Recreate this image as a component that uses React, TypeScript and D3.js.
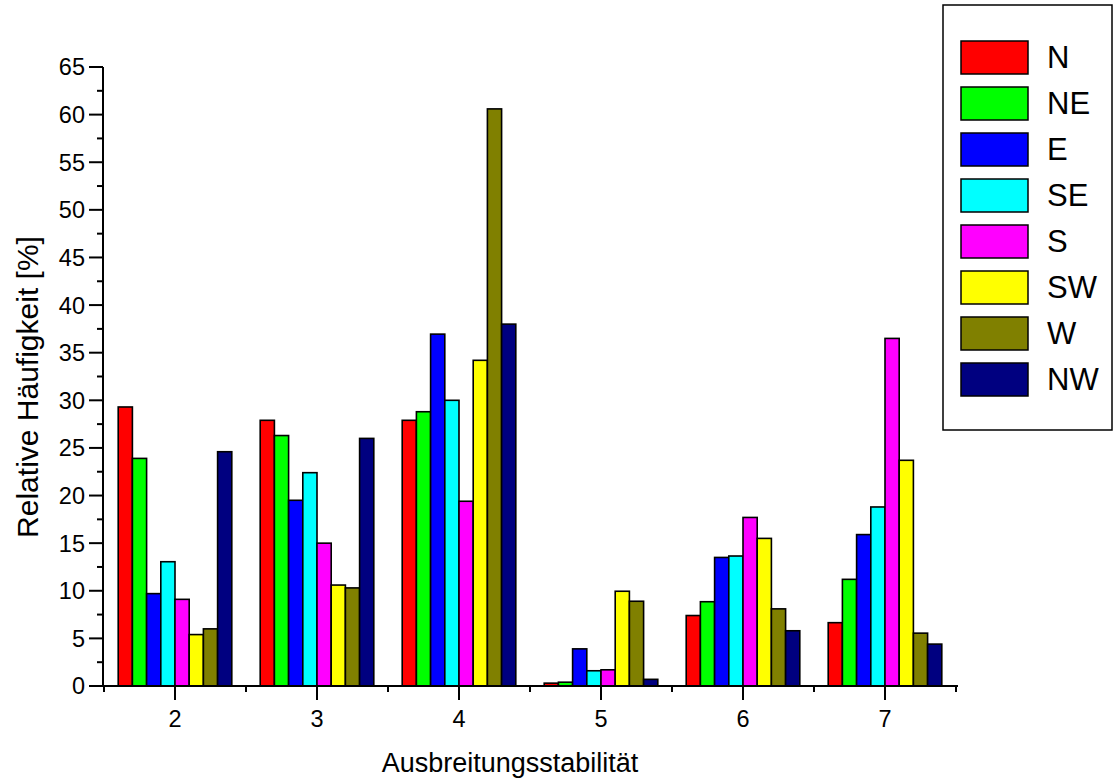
import React from "react";
import * as d3 from "d3";

const categories = [2, 3, 4, 5, 6, 7];
const seriesNames = ["N", "NE", "E", "SE", "S", "SW", "W", "NW"];
const seriesColors = ["#FF0000", "#00FF00", "#0000FF", "#00FFFF", "#FF00FF", "#FFFF00", "#808000", "#000080"];
// values per series, one per category (2..7)
const N = [29.3, 27.9, 27.9, 0.3, 7.4, 6.65];
const NE = [23.9, 26.3, 28.8, 0.4, 8.85, 11.2];
const E = [9.7, 19.5, 36.95, 3.9, 13.5, 15.9];
const SE = [13.05, 22.4, 30.0, 1.6, 13.65, 18.8];
const S = [9.1, 15.0, 19.4, 1.7, 17.7, 36.5];
const SW = [5.4, 10.6, 34.2, 9.95, 15.5, 23.7];
const W = [6.0, 10.3, 60.6, 8.9, 8.1, 5.55];
const NW = [24.6, 26.0, 38.0, 0.7, 5.8, 4.4];
const seriesValues = [N, NE, E, SE, S, SW, W, NW];
const yTicks = [0, 5, 10, 15, 20, 25, 30, 35, 40, 45, 50, 55, 60, 65];
const xTitle = "Ausbreitungsstabilität";
const yTitle = "Relative Häufigkeit [%]";

const FONT = "'Liberation Sans', Arial, Helvetica, sans-serif";

export default function App() {
  const x = d3.scaleLinear().domain([1.5, 7.5]).range([104, 956]);
  const y = d3.scaleLinear().domain([0, 65]).range([686, 67]);
  const step = x(3) - x(2);
  const inner = d3
    .scaleBand<string>()
    .domain(seriesNames)
    .range([-0.4 * step, 0.4 * step])
    .paddingInner(0)
    .paddingOuter(0);
  const minorY = d3.range(0, 65.01, 2.5).filter((v) => Math.abs(v % 5) > 0.01);
  const minorX = d3.range(1.5, 7.51, 1);
  const axisX0 = 103;
  const axisY0 = y(0);

  const legendX = 943;
  const legendTop = 5;
  const rowH = 46;

  return (
    <svg
      width={1113}
      height={784}
      style={{ position: "absolute", left: 0, top: 0, background: "#fff" }}
      fontFamily={FONT}
    >
      <rect x={0} y={0} width={1113} height={784} fill="#fff" />
      {/* bars */}
      {seriesNames.map((s, si) =>
        categories.map((c, ci) => {
          const v = seriesValues[si][ci];
          const bx = x(c) + (inner(s) as number);
          return (
            <rect
              key={s + c}
              x={bx}
              y={y(v)}
              width={inner.bandwidth()}
              height={axisY0 - y(v)}
              fill={seriesColors[si]}
              stroke="#000"
              strokeWidth={1.6}
            />
          );
        })
      )}
      {/* y axis */}
      <line x1={axisX0} x2={axisX0} y1={y(65)} y2={axisY0 + 1} stroke="#000" strokeWidth={2} />
      {yTicks.map((t) => (
        <g key={"yt" + t}>
          <line x1={axisX0 - 14} x2={axisX0} y1={y(t)} y2={y(t)} stroke="#000" strokeWidth={2} />
          <text x={85} y={y(t)} dy="0.36em" textAnchor="end" fontSize={23.5}>
            {t}
          </text>
        </g>
      ))}
      {minorY.map((t) => (
        <line key={"ym" + t} x1={axisX0 - 6} x2={axisX0} y1={y(t)} y2={y(t)} stroke="#000" strokeWidth={2} />
      ))}
      {/* x axis */}
      <line x1={axisX0 - 1} x2={958} y1={axisY0} y2={axisY0} stroke="#000" strokeWidth={2} />
      {categories.map((c) => (
        <g key={"xt" + c}>
          <line x1={x(c)} x2={x(c)} y1={axisY0} y2={axisY0 + 14} stroke="#000" strokeWidth={2} />
          <text x={x(c)} y={727} textAnchor="middle" fontSize={23.5}>
            {c}
          </text>
        </g>
      ))}
      {minorX.map((t) => (
        <line key={"xm" + t} x1={x(t)} x2={x(t)} y1={axisY0} y2={axisY0 + 6} stroke="#000" strokeWidth={2} />
      ))}
      {/* titles */}
      <text x={510} y={772} textAnchor="middle" fontSize={27}>
        {xTitle}
      </text>
      <text
        transform={`translate(38, 387) rotate(-90)`}
        textAnchor="middle"
        fontSize={30}
      >
        {yTitle}
      </text>
      {/* legend */}
      <rect
        x={legendX}
        y={legendTop}
        width={1113 - legendX - 1}
        height={430 - legendTop}
        fill="#fff"
        stroke="#000"
        strokeWidth={1.5}
      />
      {seriesNames.map((s, i) => {
        const cy = 57 + i * rowH;
        return (
          <g key={"lg" + s}>
            <rect x={961} y={cy - 16} width={67} height={33} fill={seriesColors[i]} stroke="#000" strokeWidth={1.5} />
            <text x={1047} y={cy} dy="0.36em" fontSize={31}>
              {s}
            </text>
          </g>
        );
      })}
    </svg>
  );
}
